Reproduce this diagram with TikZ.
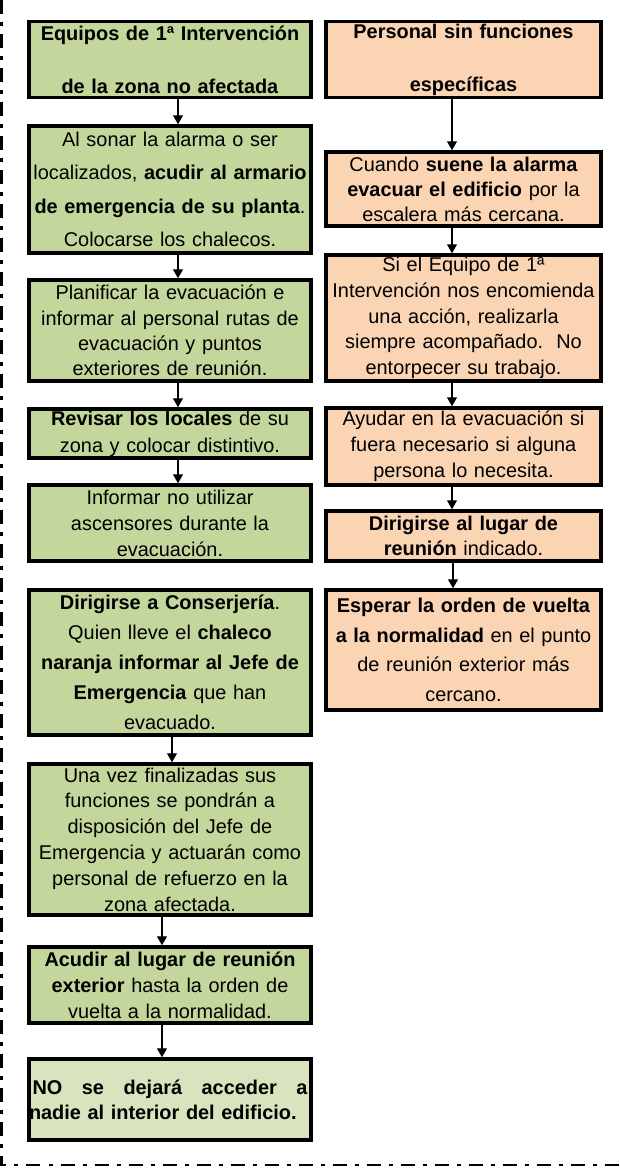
\documentclass[tikz,border=0pt]{standalone}
\usepackage{fontspec}
\setmainfont{Liberation Sans}
\usetikzlibrary{arrows.meta}
\definecolor{grn}{HTML}{C3D69B}
\definecolor{grnl}{HTML}{D7E4BD}
\definecolor{org}{HTML}{FBD4B4}
\tikzset{
  box/.style={draw=black, line width=3.5pt, inner xsep=0pt, inner ysep=0pt, align=center},
  lbox/.style={box, fill=grn, text width=282pt},
  rbox/.style={box, fill=org, text width=275pt},
  ls/.style={font=\fontsize{19.9}{#1}\selectfont},
  arr/.style={line width=1.2pt, -{Triangle[width=10pt,length=9pt]}},
  frame/.style={line width=2.5pt, dash pattern=on 14pt off 8pt on 4pt off 8pt},
}
\begin{document}
\begin{tikzpicture}[x=1pt,y=-1pt]
\useasboundingbox (0,0) rectangle (619,1176);
% frame
\draw[frame] (1.5,0) -- (1.5,1165) -- (619,1165);
% left column
\node[lbox, ls=53, minimum height=76pt] (b1) at (170,59.5)
  {\textbf{Equipos de 1ª Intervención}\\ \textbf{de la zona no afectada}};
\node[lbox, ls=33.5, minimum height=127pt] (b2) at (170,189.5)
  {Al sonar la alarma o ser\\ localizados, \textbf{acudir al armario}\\ \textbf{de emergencia de su planta}.\\ Colocarse los chalecos.};
\node[lbox, ls=25.3, minimum height=101pt] (b3) at (170,330.5)
  {Planificar la evacuación e\\ informar al personal rutas de\\ evacuación y puntos\\ exteriores de reunión.};
\node[lbox, ls=27, minimum height=49pt] (b4) at (170,433.5)
  {\textbf{Revisar los locales} de su\\ zona y colocar distintivo.};
\node[lbox, ls=26, minimum height=76pt] (b5) at (170,523)
  {Informar no utilizar\\ ascensores durante la\\ evacuación.};
\node[lbox, ls=30, minimum height=145pt] (b6) at (170,662.5)
  {\textbf{Dirigirse a Conserjería}.\\ Quien lleve el \textbf{chaleco}\\ \textbf{naranja informar al Jefe de}\\ \textbf{Emergencia} que han\\ evacuado.};
\node[lbox, ls=25.8, minimum height=151pt] (b7) at (170,839.5)
  {Una vez finalizadas sus\\ funciones se pondrán a\\ disposición del Jefe de\\ Emergencia y actuarán como\\ personal de refuerzo en la\\ zona afectada.};
\node[lbox, ls=26, minimum height=76pt] (b8) at (170,985)
  {\textbf{Acudir al lugar de reunión}\\ \textbf{exterior} hasta la orden de\\ vuelta a la normalidad.};
\node[lbox, fill=grnl, ls=25, minimum height=81pt] (b9) at (170,1099.5)
  {\hbox to 275pt{\bfseries NO\hfill se\hfill dejará\hfill acceder\hfill a}\\ \hbox to 275pt{\bfseries nadie al interior del edificio.\hfill}};
% right column
\node[rbox, ls=53, minimum height=76pt] (r1) at (463.5,59.5)
  {\textbf{Personal sin funciones}\\ \textbf{específicas}};
\node[rbox, ls=25, minimum height=74pt] (r2) at (463.5,189)
  {Cuando \textbf{suene la alarma}\\ \textbf{evacuar el edificio} por la\\ escalera más cercana.};
\node[rbox, ls=25.75, minimum height=126pt] (r3) at (463.5,318)
  {Si el Equipo de 1ª\\ Intervención nos encomienda\\ una acción, realizarla\\ siempre acompañado.\ \ No\\ entorpecer su trabajo.};
\node[rbox, ls=26, minimum height=77pt] (r4) at (463.5,446.5)
  {Ayudar en la evacuación si\\ fuera necesario si alguna\\ persona lo necesita.};
\node[rbox, ls=25, minimum height=50pt] (r5) at (463.5,536)
  {\textbf{Dirigirse al lugar de}\\ \textbf{reunión} indicado.};
\node[rbox, ls=29.7, minimum height=120pt] (r6) at (463.5,650)
  {\textbf{Esperar la orden de vuelta}\\ \textbf{a la normalidad} en el punto\\ de reunión exterior más\\ cercano.};
% arrows left
\draw[arr] ([xshift=8pt]b1.south) -- ([xshift=8pt]b2.north);
\draw[arr] ([xshift=8pt]b2.south) -- ([xshift=8pt]b3.north);
\draw[arr] ([xshift=8pt]b3.south) -- ([xshift=8pt]b4.north);
\draw[arr] ([xshift=8pt]b4.south) -- ([xshift=8pt]b5.north);
\draw[arr] ([xshift=2pt]b6.south) -- ([xshift=2pt]b7.north);
\draw[arr] ([xshift=-8pt]b7.south) -- ([xshift=-8pt]b8.north);
\draw[arr] ([xshift=-8pt]b8.south) -- ([xshift=-8pt]b9.north);
% arrows right
\draw[arr] ([xshift=-11.5pt]r1.south) -- ([xshift=-11.5pt]r2.north);
\draw[arr] ([xshift=-11.5pt]r2.south) -- ([xshift=-11.5pt]r3.north);
\draw[arr] ([xshift=-11.5pt]r3.south) -- ([xshift=-11.5pt]r4.north);
\draw[arr] ([xshift=-11.5pt]r4.south) -- ([xshift=-11.5pt]r5.north);
\draw[arr] ([xshift=-10.5pt]r5.south) -- ([xshift=-10.5pt]r6.north);
\end{tikzpicture}
\end{document}
